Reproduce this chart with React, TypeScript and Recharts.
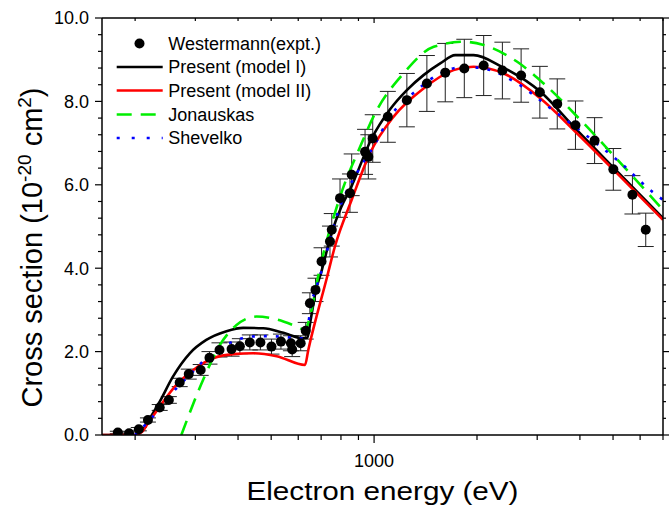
import React from 'react';
import { ComposedChart, Line, Scatter, ErrorBar, XAxis, YAxis, Legend } from 'recharts';

// ---- Data ----
const xTicks = [200, 300, 400, 500, 600, 700, 800, 900, 1000, 2000, 3000, 4000, 5000, 6000, 7000];
const xLabelTicks = [1000];
const yTicks = [0, 0.4, 0.8, 1.2, 1.6, 2, 2.4, 2.8, 3.2, 3.6, 4, 4.4, 4.8, 5.2, 5.6, 6, 6.4, 6.8, 7.2, 7.6, 8, 8.4, 8.8, 9.2, 9.6, 10];
const yLabelTicks = [0, 2, 4, 6, 8, 10];

// Westermann (expt.) : energy, value, error
const expE = [178, 192, 205, 218, 236, 251, 270, 287, 311, 330, 353, 383, 405, 433, 465, 501, 534, 571, 576, 610, 631, 649, 674, 702, 743, 752, 795, 850, 860, 941, 962, 991, 1097, 1247, 1427, 1615, 1836, 2092, 2373, 2692, 3054, 3434, 3882, 4416, 5010, 5697, 6232];
const expV = [0.06, 0.04, 0.14, 0.36, 0.66, 0.84, 1.26, 1.46, 1.56, 1.85, 2.04, 2.06, 2.13, 2.22, 2.22, 2.12, 2.24, 2.2, 2.05, 2.2, 2.5, 3.16, 3.48, 4.16, 4.64, 4.92, 5.68, 5.8, 6.24, 6.79, 6.67, 7.11, 7.63, 8.03, 8.43, 8.69, 8.79, 8.86, 8.74, 8.62, 8.22, 7.94, 7.43, 7.06, 6.37, 5.76, 4.92];
const expErr = [0.03, 0.03, 0.04, 0.05, 0.07, 0.08, 0.1, 0.12, 0.13, 0.15, 0.17, 0.17, 0.18, 0.18, 0.18, 0.18, 0.18, 0.18, 0.17, 0.18, 0.2, 0.25, 0.28, 0.33, 0.37, 0.39, 0.46, 0.46, 0.5, 0.54, 0.53, 0.57, 0.61, 0.64, 0.67, 0.7, 0.7, 0.72, 0.68, 0.64, 0.62, 0.6, 0.58, 0.55, 0.5, 0.46, 0.4];

// Present (model I)
const m1E = [160, 200, 205, 210, 218, 236, 258, 289, 323, 370, 414, 474, 543, 621, 638, 652, 675, 703, 751, 800, 850, 984, 1114, 1247, 1395, 1561, 1727, 1954, 2365, 3068, 3840, 5031, 7000];
const m1V = [0, 0, 0.04, 0.1, 0.32, 0.8, 1.4, 1.96, 2.28, 2.49, 2.57, 2.56, 2.45, 2.32, 2.33, 2.75, 3.45, 3.95, 4.84, 5.45, 5.88, 7.11, 7.81, 8.27, 8.63, 8.91, 9.11, 9.11, 8.83, 8.23, 7.39, 6.4, 5.2];

// Present (model II)
const m2E = [160, 200, 205, 210, 218, 236, 264, 296, 338, 387, 443, 519, 628, 642, 727, 768, 860, 973, 1139, 1395, 1708, 1954, 2394, 3068, 3927, 5031, 7000];
const m2V = [0, 0, 0.03, 0.08, 0.28, 0.68, 1.2, 1.56, 1.84, 1.94, 1.96, 1.89, 1.68, 2.04, 3.76, 4.52, 5.64, 6.76, 7.63, 8.31, 8.75, 8.83, 8.67, 8.07, 7.23, 6.35, 5.16];

// Jonauskas
const jonE = [273, 316, 354, 396, 453, 519, 594, 628, 649, 690, 795, 920, 995, 1219, 1494, 1826, 2092, 2622, 3133, 4107, 5383, 7000];
const jonV = [0, 1.32, 2.16, 2.64, 2.84, 2.77, 2.6, 2.52, 2.84, 3.9, 5.71, 7.0, 7.63, 8.67, 9.31, 9.43, 9.35, 8.95, 8.43, 7.47, 6.43, 5.4];

// Shevelko
const shvE = [200, 220, 241, 264, 289, 319, 353, 387, 433, 481, 537, 594, 628, 656, 694, 795, 890, 995, 1114, 1334, 1561, 1826, 2092, 2622, 3287, 4107, 5269, 6520, 7000];
const shvV = [0, 0.35, 0.72, 1.12, 1.44, 1.8, 2.08, 2.24, 2.36, 2.37, 2.36, 2.32, 2.32, 3.16, 3.8, 5.48, 6.28, 6.91, 7.63, 8.27, 8.67, 8.83, 8.79, 8.43, 7.83, 7.23, 6.52, 5.83, 5.64];

const legendNames = ['Westermann(expt.)', 'Present (model I)', 'Present (model II)', 'Jonauskas', 'Shevelko'];

const toPts = (es: number[], vs: number[]) => es.map((e, i) => ({ e, v: vs[i] }));
const expData = expE.map((e, i) => ({ e, v: expV[i], err: expErr[i] }));
const m1Data = toPts(m1E, m1V);
const m2Data = toPts(m2E, m2V);
const jonData = toPts(jonE, jonV);
const shvData = toPts(shvE, shvV);

const FONT = '"Liberation Sans", Arial, Helvetica, sans-serif';
const GREEN = '#00ee00';
const BLUE = '#0000ff';
const RED = '#ff0000';

const isIn = (arr: number[], v: number) => arr.some((a) => Math.abs(a - v) < 1e-6);

const YTickLeft = (props: any) => {
  const { x, y, payload } = props;
  const major = isIn(yLabelTicks, payload.value);
  return (
    <g>
      <line x1={x} x2={x - (major ? 7 : 4)} y1={y} y2={y} stroke="#000" strokeWidth={1.2} />
      {major && (
        <text x={x - 13} y={y} dy="0.36em" textAnchor="end" fontSize={18} fontFamily={FONT} fill="#000">
          {payload.value.toFixed(1)}
        </text>
      )}
    </g>
  );
};

const YTickRight = (props: any) => {
  const { x, y, payload } = props;
  const major = isIn(yLabelTicks, payload.value);
  return <line x1={x} x2={x + (major ? 6 : 3)} y1={y} y2={y} stroke="#000" strokeWidth={1.2} />;
};

const XTickBottom = (props: any) => {
  const { x, y, payload } = props;
  const major = isIn(xLabelTicks, payload.value);
  return (
    <g>
      <line x1={x} x2={x} y1={y} y2={y + (major ? 8 : 5)} stroke="#000" strokeWidth={1.2} />
      {major && (
        <text x={x} y={y + 32} textAnchor="middle" fontSize={18} fontFamily={FONT} fill="#000">
          {payload.value}
        </text>
      )}
    </g>
  );
};

const XTickTop = (props: any) => {
  const { x, y, payload } = props;
  const major = isIn(xLabelTicks, payload.value);
  return <line x1={x} x2={x} y1={y} y2={y + (major ? 5 : 3)} stroke="#000" strokeWidth={1.2} />;
};

const XTitle = (props: any) => {
  const vb = props.viewBox || {};
  const cx = (vb.x ?? 102) + (vb.width ?? 561) / 2;
  const base = (vb.y ?? 435) + 65;
  return (
    <text x={cx} y={base} textAnchor="middle" fontSize={26} fontFamily={FONT} fill="#000" textLength={272} lengthAdjust="spacingAndGlyphs">
      Electron energy (eV)
    </text>
  );
};

const YTitle = (props: any) => {
  const vb = props.viewBox || {};
  const cy = (vb.y ?? 18) + (vb.height ?? 417) / 2 + 21;
  return (
    <text transform={`translate(42,${cy}) rotate(-90)`} textAnchor="middle" fontSize={29} fontFamily={FONT} fill="#000">
      Cross section (10
      <tspan dy={-11} fontSize={19}>-20</tspan>
      <tspan dy={11}> cm</tspan>
      <tspan dy={-11} fontSize={19}>2</tspan>
      <tspan dy={11}>)</tspan>
    </text>
  );
};

const LegendBox = () => {
  const rows = [23.5, 47, 70.5, 94.5, 118];
  const x1 = 16.7;
  const x2 = 62.7;
  const tx = 68.3;
  return (
    <svg width={260} height={135} style={{ overflow: 'visible' }}>
      <circle cx={39.5} cy={rows[0]} r={5} fill="#000" />
      <line x1={x1} x2={x2} y1={rows[1]} y2={rows[1]} stroke="#000" strokeWidth={2.5} />
      <line x1={x1} x2={x2} y1={rows[2]} y2={rows[2]} stroke={RED} strokeWidth={2.5} />
      <line x1={x1} x2={x2} y1={rows[3]} y2={rows[3]} stroke={GREEN} strokeWidth={2.5} strokeDasharray="15 9" />
      <line x1={x1} x2={x2} y1={rows[4]} y2={rows[4]} stroke={BLUE} strokeWidth={2.5} strokeDasharray="3 12" />
      {legendNames.map((n, i) => (
        <text key={n} x={tx} y={rows[i]} dy="0.36em" fontSize={18} fontFamily={FONT} fill="#000">
          {n}
        </text>
      ))}
    </svg>
  );
};

const Dot = (props: any) => <circle cx={props.cx} cy={props.cy} r={5} fill="#000" />;

export default function App() {
  return (
    <div style={{ position: 'absolute', left: 0, top: 0, width: 671, height: 506, background: '#fff' }}>
      <ComposedChart width={671} height={506} margin={{ top: 0, right: 0, bottom: 0, left: 0 }}>
        <XAxis
          xAxisId="b"
          dataKey="e"
          type="number"
          scale="log"
          domain={[160, 7000]}
          allowDataOverflow
          ticks={xTicks}
          interval={0}
          orientation="bottom"
          height={71}
          tickSize={0}
          tickMargin={0}
          tickLine={false}
          tick={<XTickBottom />}
          axisLine={{ stroke: '#000', strokeWidth: 1.5 }}
          label={{ content: XTitle }}
        />
        <XAxis
          xAxisId="t"
          dataKey="e"
          type="number"
          scale="log"
          domain={[160, 7000]}
          allowDataOverflow
          ticks={xTicks}
          interval={0}
          orientation="top"
          height={18}
          tickSize={0}
          tickMargin={0}
          tickLine={false}
          tick={<XTickTop />}
          axisLine={{ stroke: '#000', strokeWidth: 1.5 }}
        />
        <YAxis
          yAxisId="l"
          type="number"
          domain={[0, 10]}
          allowDataOverflow
          ticks={yTicks}
          interval={0}
          orientation="left"
          width={102}
          tickSize={0}
          tickMargin={0}
          tickLine={false}
          tick={<YTickLeft />}
          axisLine={{ stroke: '#000', strokeWidth: 1.5 }}
          label={{ content: YTitle }}
        />
        <YAxis
          yAxisId="r"
          type="number"
          domain={[0, 10]}
          allowDataOverflow
          ticks={yTicks}
          interval={0}
          orientation="right"
          width={8}
          tickSize={0}
          tickMargin={0}
          tickLine={false}
          tick={<YTickRight />}
          axisLine={{ stroke: '#000', strokeWidth: 1.5 }}
        />
        <Legend
          layout="vertical"
          align="center"
          verticalAlign="middle"
          content={<LegendBox />}
          wrapperStyle={{ position: 'absolute', left: 100, top: 20, width: 260, height: 135 }}
        />
        <Scatter
          xAxisId="b"
          yAxisId="l"
          data={expData}
          dataKey="v"
          name={legendNames[0]}
          fill="#000"
          shape={<Dot />}
          isAnimationActive={false}
        >
          <ErrorBar dataKey="err" direction="y" width={8} stroke="#222" strokeWidth={1} />
        </Scatter>
        <Line xAxisId="b" yAxisId="l" data={m1Data} dataKey="v" name={legendNames[1]} type="monotone" stroke="#000" strokeWidth={2.6} dot={false} isAnimationActive={false} />
        <Line xAxisId="b" yAxisId="l" data={m2Data} dataKey="v" name={legendNames[2]} type="monotone" stroke={RED} strokeWidth={2.6} dot={false} isAnimationActive={false} />
        <Line xAxisId="b" yAxisId="l" data={jonData} dataKey="v" name={legendNames[3]} type="monotone" stroke={GREEN} strokeWidth={2.6} strokeDasharray="15 9" dot={false} isAnimationActive={false} />
        <Line xAxisId="b" yAxisId="l" data={shvData} dataKey="v" name={legendNames[4]} type="monotone" stroke={BLUE} strokeWidth={2.6} strokeDasharray="3 9" dot={false} isAnimationActive={false} />
      </ComposedChart>
    </div>
  );
}
